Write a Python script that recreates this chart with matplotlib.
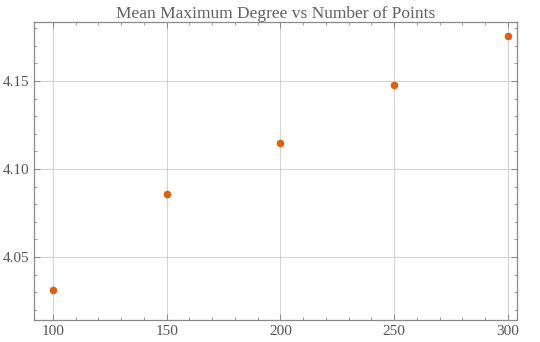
import matplotlib.pyplot as plt
from matplotlib.ticker import MultipleLocator

# data
num_points = [100, 150, 200, 250, 300]
mean_max_degree = [4.031, 4.0857, 4.1147, 4.1477, 4.1756]

plt.rcParams['font.family'] = ['Liberation Serif', 'DejaVu Serif']

fig = plt.figure(figsize=(5.4, 3.42), dpi=100)
ax = fig.add_axes([34 / 540, 1 - 320 / 342, (517 - 34) / 540, (320 - 22) / 342])

ax.scatter(num_points, mean_max_degree, s=30, color='#dc5f12', zorder=3, linewidths=0)

ax.set_xlim(91.7, 304)
ax.set_ylim(4.0142, 4.1835)
ax.set_xticks([100, 150, 200, 250, 300])
ax.set_yticks([4.05, 4.10, 4.15])
ax.set_yticklabels(['4.05', '4.10', '4.15'])
ax.xaxis.set_minor_locator(MultipleLocator(10))
ax.yaxis.set_minor_locator(MultipleLocator(0.01))

ax.grid(True, which='major', color='#d4d4d4', linewidth=0.8)
ax.set_axisbelow(True)

for s in ax.spines.values():
    s.set_color('#8a8a8a')
    s.set_linewidth(0.9)

ax.tick_params(which='both', direction='in', top=True, right=True,
               colors='#8a8a8a', labelcolor='#555555', labelsize=11)
ax.tick_params(which='major', length=4.5, width=0.7, pad=3.5)
ax.tick_params(which='minor', length=2.5, width=0.6)

ax.set_title('Mean Maximum Degree vs Number of Points', fontsize=12.5,
             color='#606060', pad=2)

fig.savefig('out.png', dpi=100)
